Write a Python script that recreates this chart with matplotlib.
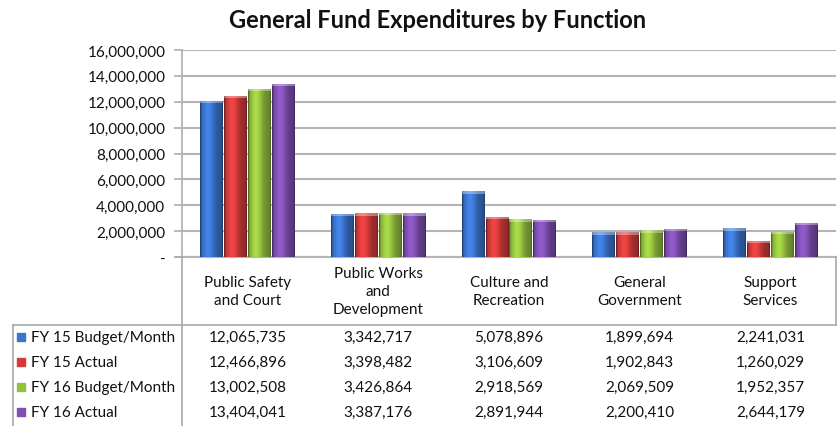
import numpy as np
import matplotlib
matplotlib.use("Agg")
import matplotlib.pyplot as plt
from matplotlib.colors import to_rgb
from matplotlib.transforms import blended_transform_factory
from matplotlib.lines import Line2D
from matplotlib.patches import Rectangle

plt.rcParams['font.family'] = ['Lato', 'DejaVu Sans']

categories = ["Public Safety\nand Court", "Public Works\nand\nDevelopment",
              "Culture and\nRecreation", "General\nGovernment", "Support\nServices"]
series = ["FY 15 Budget/Month", "FY 15 Actual", "FY 16 Budget/Month", "FY 16 Actual"]
fy15_budget = [12065735, 3342717, 5078896, 1899694, 2241031]
fy15_actual = [12466896, 3398482, 3106609, 1902843, 1260029]
fy16_budget = [13002508, 3426864, 2918569, 2069509, 1952357]
fy16_actual = [13404041, 3387176, 2891944, 2200410, 2644179]
values = [fy15_budget, fy15_actual, fy16_budget, fy16_actual]
colors = ["#3a74cc", "#d33b3b", "#94c03f", "#7f4fb2"]
yticks = [0, 2000000, 4000000, 6000000, 8000000, 10000000, 12000000, 14000000, 16000000]

W, H = 838, 427
fig = plt.figure(figsize=(W / 100, H / 100), dpi=100)
fx = lambda px: px / W
fy = lambda py: 1 - py / H

x0, x1, ytop, ybot = 182, 836, 51, 258
ax = fig.add_axes([fx(x0), fy(ybot), fx(x1) - fx(x0), fy(ytop) - fy(ybot)])

n = len(categories)
xs = np.arange(n)
bw = 0.183
grid_c = "#b4b4b4"
fs = 11


def shade(c):
    # horizontal cylinder-like shading across one bar
    base = np.array(to_rgb(c))
    t = np.linspace(0, 1, 40)
    k = 0.7 + 0.45 * np.exp(-((t - 0.35) / 0.3) ** 2)
    k[:2] = 0.55
    k[-2:] = 0.55
    img = np.clip(base[None, :] * k[:, None], 0, 1)
    return img[None, :, :]


for i, (vals, c) in enumerate(zip(values, colors)):
    bars = ax.bar(xs + (i - 1.5) * bw, vals, width=bw * 0.96, color=c, zorder=3)
    for p in bars:
        bx, by = p.get_x(), p.get_y()
        bwid, bh = p.get_width(), p.get_height()
        im = ax.imshow(shade(c), extent=[bx, bx + bwid, by, by + bh],
                       aspect='auto', zorder=4, interpolation='bilinear')
        im.set_clip_path(p)
        # light bevel at the top of each bar
        ax.add_patch(Rectangle((bx, by + bh - 200000), bwid, 200000,
                               color="white", alpha=0.35, lw=0, zorder=5))

ax.set_xlim(-0.5, n - 0.5)
ax.set_ylim(0, 16000000)
ax.set_yticks(yticks)
ax.set_yticklabels(["-" if v == 0 else f"{v:,}" for v in yticks], fontsize=fs)
ax.set_xticks([])
ax.yaxis.grid(True, color=grid_c, lw=1.5, zorder=0)
ax.tick_params(axis='y', length=6, width=1.3, color=grid_c, pad=6, labelcolor="#111111")
for s in ["top", "right"]:
    ax.spines[s].set_visible(False)
ax.spines["left"].set_color(grid_c)
ax.spines["left"].set_linewidth(1.3)
ax.spines["bottom"].set_color(grid_c)
ax.spines["bottom"].set_linewidth(1.5)

fig.text(fx(438), fy(20), "General Fund Expenditures by Function",
         ha="center", va="center", fontsize=17, fontweight="bold", color="#111111")

# data table under the chart
tr = blended_transform_factory(ax.transData, fig.transFigure)
line_c = "#a8a8a8"
for (xa, ya, xb, yb) in [(x0, ybot, x0, H), (x1, ybot, x1, 326), (13, 326, x1, 326),
                         (13, 326, 13, H), (x0 - 6, ybot, x0, ybot)]:
    fig.add_artist(Line2D([fx(xa), fx(xb)], [fy(ya), fy(yb)], color=line_c, lw=1.2))

for j, cat in enumerate(categories):
    fig.text(xs[j], fy(292), cat, transform=tr, ha="center", va="center",
             fontsize=fs, linespacing=1.4, color="#111111")

row_y = [338, 363, 388, 413]
for i, (name, vals, c) in enumerate(zip(series, values, colors)):
    fig.patches.append(Rectangle((fx(17), fy(row_y[i] + 4)), fx(8), fy(0) - fy(8),
                                 transform=fig.transFigure, color=c, figure=fig))
    fig.text(fx(31), fy(row_y[i]), name, ha="left", va="center", fontsize=fs,
             color="#111111")
    for j, v in enumerate(vals):
        fig.text(xs[j], fy(row_y[i]), f"{v:,}", transform=tr, ha="center",
                 va="center", fontsize=fs, color="#111111")

fig.savefig("out.png", dpi=100)
